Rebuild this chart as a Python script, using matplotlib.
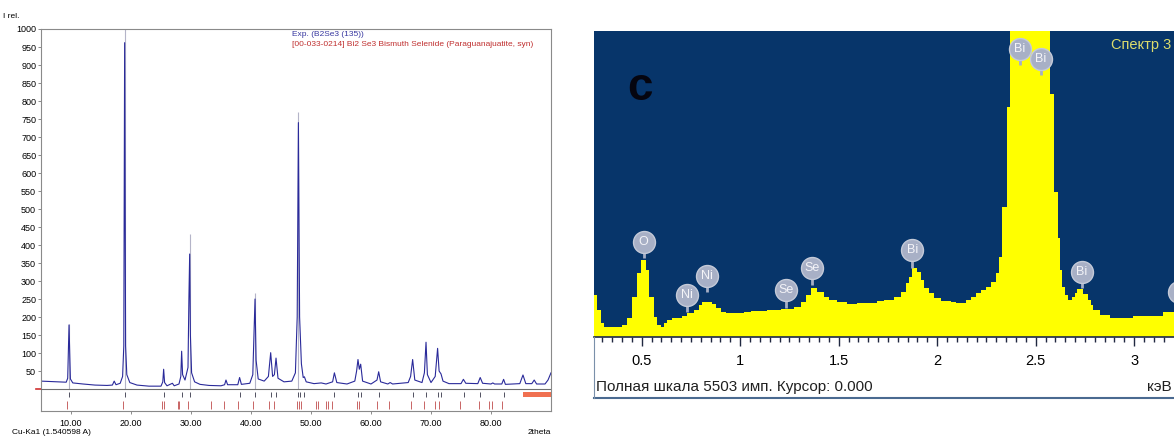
import matplotlib
matplotlib.use("Agg")
import matplotlib.pyplot as plt
from matplotlib.lines import Line2D

plt.rcParams['font.family'] = ['Liberation Sans', 'DejaVu Sans']

W, H = 1174, 437

# ---------------- XRD pattern (left) ----------------
xrd_two_theta = [5.0, 6.5, 8.0, 9.2, 9.45, 9.67, 9.9, 10.3, 12.0, 14.0, 16.0, 16.9, 17.2, 17.5,
                 18.2, 18.6, 18.8, 18.94, 19.1, 19.3, 19.8, 21.0, 23.0, 25.0, 25.3, 25.44, 25.6,
                 26.0, 26.9, 27.2, 28.0, 28.3, 28.44, 28.6, 29.0, 29.5, 29.65, 29.78, 29.9, 30.1,
                 30.6, 31.5, 33.0, 35.0, 35.6, 35.83, 36.1, 37.8, 38.1, 38.4, 39.8, 40.3, 40.5,
                 40.67, 40.85, 41.2, 42.2, 42.9, 43.28, 43.6, 43.9, 44.17, 44.5, 45.5, 46.8, 47.4,
                 47.7, 47.9, 48.1, 48.4, 48.7, 48.9, 49.2, 50.5, 51.7, 52.5, 53.6, 53.9, 54.3,
                 56.0, 57.3, 57.6, 57.83, 58.05, 58.28, 58.6, 60.0, 61.0, 61.28, 61.6, 62.8, 63.2,
                 63.6, 66.2, 66.6, 66.94, 67.3, 68.5, 68.9, 69.17, 69.4, 70.0, 70.7, 71.1, 71.35,
                 71.67, 72.0, 73.0, 75.0, 75.4, 75.8, 77.8, 78.2, 78.6, 80.0, 80.3, 80.6, 81.8,
                 82.1, 82.4, 84.8, 85.33, 85.8, 86.8, 87.2, 87.6, 89.0, 89.5, 90.0]
xrd_intensity = [22, 21, 20, 19, 30, 178, 28, 17, 14, 11, 10, 11, 22, 12,
                 16, 35, 120, 962, 120, 40, 18, 11, 8, 8, 20, 55, 18,
                 9, 16, 9, 14, 35, 105, 40, 25, 60, 250, 375, 150, 45,
                 20, 13, 10, 9, 12, 25, 12, 12, 32, 13, 16, 40, 150,
                 250, 80, 28, 22, 35, 101, 35, 40, 86, 30, 20, 22, 45,
                 200, 740, 200, 70, 32, 34, 20, 15, 17, 14, 20, 45, 18,
                 14, 22, 50, 82, 55, 69, 22, 14, 25, 48, 20, 14, 18,
                 14, 18, 35, 82, 25, 18, 45, 130, 40, 18, 35, 113, 50,
                 42, 22, 15, 15, 27, 16, 15, 32, 16, 14, 17, 14, 14,
                 27, 13, 15, 39, 15, 15, 25, 14, 14, 25, 45]

marker_pos = [9.67, 18.94, 29.78, 40.67, 47.9]
marker_height = [180, 1000, 430, 268, 770]

exp_ticks = [9.67, 18.94, 25.44, 28.44, 29.78, 38.11, 40.67, 43.28, 44.17, 47.89, 48.22,
             48.89, 53.89, 57.83, 58.28, 61.28, 66.94, 69.17, 71.11, 71.67, 75.56, 78.22, 82.11]
ref_ticks = [9.33, 18.61, 25.11, 25.5, 27.78, 28.06, 29.44, 33.33, 35.44, 37.78, 40.33, 42.94,
             43.78, 47.61, 47.94, 48.33, 50.89, 51.22, 52.5, 52.78, 53.5, 57.61, 58.06, 60.94,
             62.94, 66.67, 68.78, 70.72, 71.33, 74.89, 78.06, 79.72, 80.11, 81.78]

y_ticks = list(range(50, 1001, 50))
x_ticks = [10, 20, 30, 40, 50, 60, 70, 80]

# ---------------- EDS spectrum (right) ----------------
eds_kev = [0.258, 0.272, 0.292, 0.309, 0.402, 0.427, 0.453, 0.478, 0.495, 0.520, 0.537, 0.563,
           0.579, 0.596, 0.613, 0.630, 0.656, 0.706, 0.732, 0.766, 0.791, 0.808, 0.859, 0.876,
           0.901, 0.926, 0.985, 1.019, 1.053, 1.138, 1.205, 1.273, 1.307, 1.332, 1.358, 1.392,
           1.425, 1.451, 1.493, 1.544, 1.595, 1.696, 1.730, 1.781, 1.815, 1.840, 1.857, 1.874,
           1.899, 1.916, 1.933, 1.958, 1.984, 2.018, 2.068, 2.094, 2.145, 2.170, 2.196, 2.221,
           2.246, 2.272, 2.297, 2.314, 2.331, 2.352, 2.369, 2.573, 2.593, 2.613, 2.623, 2.635,
           2.648, 2.665, 2.683, 2.700, 2.708, 2.742, 2.767, 2.780, 2.793, 2.826, 2.877, 2.996,
           3.148, 3.25]
eds_counts = [755, 485, 246, 174, 216, 336, 725, 1145, 1384, 1205, 725, 365,
              216, 186, 246, 306, 336, 378, 426, 485, 575, 635, 593, 516,
              455, 426, 437, 455, 467, 485, 498, 534, 635, 755, 875, 815,
              725, 665, 635, 593, 606, 653, 665, 725, 815, 965, 1085, 1235,
              1175, 1025, 875, 785, 695, 653, 635, 606, 665, 725, 785, 845,
              905, 995, 1145, 1444, 2343, 4141, 5503, 4363, 2613, 1775, 1200, 900,
              760, 665, 725, 800, 858, 780, 665, 575, 485, 395, 336, 378,
              455, 455]
full_scale = 5503

peak_names = ['O', 'Ni', 'Ni', 'Se', 'Se', 'Bi', 'Bi', 'Bi', 'Bi', '']
peak_kev = [0.51, 0.728, 0.83, 1.232, 1.363, 1.874, 2.42, 2.527, 2.733, 3.225]
stem_bottom = [1420, 455, 809, 521, 935, 1241, 4890, 4710, 881, 520]
label_center = [1713, 755, 1097, 845, 1246, 1564, 5173, 4993, 1174, 815]

eds_major = [0.5, 1.0, 1.5, 2.0, 2.5, 3.0]
eds_major_labels = ['0.5', '1', '1.5', '2', '2.5', '3']
eds_minor = [round(0.05 * i, 2) for i in range(6, 64)]

fig = plt.figure(figsize=(W / 100, H / 100), dpi=100)

# ---- left panel ----
ax1 = fig.add_axes([41 / W, 1 - 411 / H, 510 / W, 382 / H])
ax1.set_xlim(5, 90)
ax1.set_ylim(-61, 1000)
for s in ax1.spines.values():
    s.set_color('#8a8a8a')
    s.set_linewidth(0.8)
ax1.vlines(marker_pos, 0, marker_height, color='#b4b4c8', lw=0.8, zorder=1)
ax1.plot(xrd_two_theta, xrd_intensity, color='#2a2a9a', lw=0.8, zorder=2)
ax1.axhline(0, color='#6e6e6e', lw=0.8, zorder=3)
ax1.plot([4.1, 5.0], [0, 0], color='#d03030', lw=1.2, clip_on=False)
ax1.vlines(exp_ticks, -22, -9.5, color='#505060', lw=0.7)
ax1.vlines(ref_ticks, -55.5, -34.5, color='#c86464', lw=0.7)
ax1.fill_between([85.3, 90], -22, -9.5, color='#f07050', lw=0)
ax1.set_yticks(y_ticks)
ax1.set_yticklabels([str(v) for v in y_ticks])
ax1.set_xticks(x_ticks)
ax1.set_xticklabels([f'{v:.2f}' for v in x_ticks])
ax1.tick_params(axis='y', labelsize=6.5, length=2.5, width=0.6, pad=1, color='#777777')
ax1.tick_params(axis='x', labelsize=6.5, length=2, width=0.6, pad=4, color='#777777')

fig.text(3 / W, 1 - 16 / H, 'I rel.', fontsize=6, va='center')
fig.text(12 / W, 1 - 432 / H, 'Cu-Ka1 (1.540598 A)', fontsize=6, va='center')
fig.text(551 / W, 1 - 432 / H, '2theta', fontsize=6, va='center', ha='right')
fig.text(292 / W, 1 - 35 / H, 'Exp. (B2Se3 (135))', fontsize=6, va='center', color='#3838a0')
fig.text(292 / W, 1 - 44 / H, '[00-033-0214] Bi2 Se3 Bismuth Selenide (Paraguanajuatite, syn)',
         fontsize=6, va='center', color='#c03030')

# ---- right panel ----
ax2 = fig.add_axes([594 / W, 1 - 337 / H, (W - 594) / W, 306 / H])
ax2.set_facecolor('#07356a')
ax2.set_xlim(0.2579, 3.2021)
ax2.set_ylim(0, full_scale)
ax2.fill_between(eds_kev, eds_counts, step='post', color='#ffff00', lw=0)
for s in ['top', 'right', 'left']:
    ax2.spines[s].set_visible(False)
ax2.spines['bottom'].set_color('#1c2a48')
ax2.spines['bottom'].set_linewidth(1.2)
ax2.set_yticks([])
ax2.set_xticks(eds_major)
ax2.set_xticklabels(eds_major_labels)
ax2.set_xticks(eds_minor, minor=True)
ax2.tick_params(axis='x', which='major', length=6.5, width=1, color='#202840',
                labelsize=10.5, pad=6)
ax2.tick_params(axis='x', which='minor', length=3.5, width=1, color='#202840')

ax2.vlines(peak_kev, stem_bottom, label_center, color='#a6aec4', lw=2, zorder=4)
ax2.scatter(peak_kev, label_center, s=250, color='#a8b0c6', edgecolors='#c4cad8',
            linewidths=1, zorder=5, clip_on=False)
for name, e, c in zip(peak_names, peak_kev, label_center):
    ax2.text(e, c, name, color='#f4f4f8', fontsize=9, ha='center', va='center', zorder=6)

fig.text(1171 / W, 1 - 45 / H, 'Спектр 3', fontsize=10.5, va='center', ha='right',
         color='#dcdc6c')
fig.text(627 / W, 1 - 88 / H, 'c', fontsize=33, fontweight='bold', va='center',
         color='#05050f')
fig.text(596 / W, 1 - 387 / H, 'Полная шкала 5503 имп. Курсор: 0.000', fontsize=11,
         va='center', color='#202020')
fig.text(1172 / W, 1 - 387 / H, 'кэВ', fontsize=11, va='center', ha='right', color='#202020')
fig.add_artist(Line2D([594 / W, 1], [1 - 398 / H] * 2, color='#4a6a90', lw=1.5))
fig.add_artist(Line2D([594 / W] * 2, [1 - 337 / H, 1 - 398 / H], color='#7a90aa', lw=0.8))

fig.savefig('out.png', dpi=100)
